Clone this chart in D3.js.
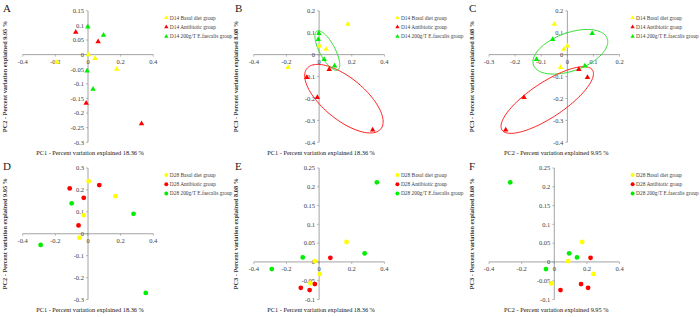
<!DOCTYPE html>
<html>
<head>
<meta charset="utf-8">
<script src="https://cdn.jsdelivr.net/npm/d3@7"></script>
<style>
  body { margin: 0; background: #fff; }
  svg { display: block; font-family: "Liberation Serif", "DejaVu Serif", serif; }
  .tick-label { font-size: 6.5px; fill: #404040; }
  .axis-title { font-size: 6.3px; fill: #111; }
  .axis-title.vertical { font-weight: bold; fill: #333; }
  .legend-text { font-size: 5.4px; fill: #404040; }
  .panel-letter { font-size: 11px; fill: #222; }
</style>
</head>
<body>
<div id="chart"></div>
<script>
// principal coordinates [PC1, PC2, PC3] per sample
var d14Basal = [[-0.19, -0.026, -0.058], [0.003, 0.0, 0.04], [0.043, -0.013, 0.025], [0.176, -0.05, 0.139]];
var d14Antibiotic = [[-0.075, 0.077, -0.104], [0.062, 0.044, -0.068], [-0.011, -0.166, -0.195], [0.328, -0.236, -0.344]];
var d14Faecalis = [[-0.001, 0.095, 0.097], [0.095, 0.067, -0.051], [-0.005, -0.056, 0.069], [0.031, -0.118, -0.022]];

var d28Basal = [[0.004, 0.24, -0.032], [0.168, 0.171, 0.053], [-0.026, 0.085, 0.002], [-0.053, -0.018, -0.057]];
var d28Antibiotic = [[-0.112, 0.207, -0.069], [0.069, 0.222, 0.011], [-0.026, 0.164, -0.059], [-0.058, 0.038, -0.075]];
var d28Faecalis = [[-0.1, 0.139, 0.012], [0.279, 0.091, 0.023], [-0.29, -0.051, -0.019], [0.354, -0.27, 0.212]];

var pcTitles = ["PC1 - Percent variation explained 18.36 %",
                "PC2 - Percent variation explained 9.95 %",
                "PC3 - Percent variation explained 8.08 %"];
var groupNames = ["Basal diet group", "Antibiotic group", "200g/T E.faecalis group"];
var groupColors = ["#ffff00", "#ff0000", "#00ee00"];
var ellipseColors = ["#ffff00", "#ff2020", "#33dd33"];

var ticksX = [-0.4, -0.2, 0, 0.2, 0.4];
var ticksXc = [-0.3, -0.2, -0.1, 0, 0.1, 0.2];
var ticksYa = [0.15, 0.1, 0.05, 0, -0.05, -0.1, -0.15, -0.2, -0.25, -0.3];
var ticksYbc = [0.2, 0.1, 0, -0.1, -0.2, -0.3, -0.4];
var ticksYd = [0.3, 0.2, 0.1, 0, -0.1, -0.2, -0.3];
var ticksYef = [0.25, 0.2, 0.15, 0.1, 0.05, 0, -0.05, -0.1];

// group ellipses drawn by the authors: centre and two semi-axis vectors, in data units
var ellipsesB = [
  {group: 2, c: [0.0504, 0.0187], u: [0.0638, -0.0889], v: [0.0414, 0.0169]},
  {group: 1, c: [0.152, -0.201], u: [0.2265, -0.1377], v: [-0.0801, -0.0743]}
];
var ellipsesC = [
  {group: 2, c: [0.0115, 0.013], u: [0.141, 0.0609], v: [0.025, -0.0816]},
  {group: 1, c: [-0.077, -0.207], u: [0.173, 0.137], v: [0.0373, -0.0664]}
];

var panels = [
  {letter: "A", day: "D14", groups: [d14Basal, d14Antibiotic, d14Faecalis], xi: 0, yi: 1, xTicks: ticksX, yTicks: ticksYa, col: 0, row: 0, shape: "triangle", ellipses: []},
  {letter: "B", day: "D14", groups: [d14Basal, d14Antibiotic, d14Faecalis], xi: 0, yi: 2, xTicks: ticksX, yTicks: ticksYbc, col: 1, row: 0, shape: "triangle", ellipses: ellipsesB},
  {letter: "C", day: "D14", groups: [d14Basal, d14Antibiotic, d14Faecalis], xi: 1, yi: 2, xTicks: ticksXc, yTicks: ticksYbc, col: 2, row: 0, shape: "triangle", ellipses: ellipsesC},
  {letter: "D", day: "D28", groups: [d28Basal, d28Antibiotic, d28Faecalis], xi: 0, yi: 1, xTicks: ticksX, yTicks: ticksYd, col: 0, row: 1, shape: "circle", ellipses: []},
  {letter: "E", day: "D28", groups: [d28Basal, d28Antibiotic, d28Faecalis], xi: 0, yi: 2, xTicks: ticksX, yTicks: ticksYef, col: 1, row: 1, shape: "circle", ellipses: []},
  {letter: "F", day: "D28", groups: [d28Basal, d28Antibiotic, d28Faecalis], xi: 1, yi: 2, xTicks: ticksX, yTicks: ticksYef, col: 2, row: 1, shape: "circle", ellipses: []}
];

var width = 700, height = 317;
var plotLefts = [22.7, 253.8, 489];
var plotTops = [10.8, 168];
var letterX = [3, 235, 469];
var plotW = 130.6, plotH = 131.5;

var svg = d3.select("#chart").append("svg")
    .attr("width", width)
    .attr("height", height);

function fmt(v) {
  var s = String(+v.toFixed(2));
  return s === "-0" ? "0" : s;
}

function drawPanel(p) {
  var left = plotLefts[p.col], top = plotTops[p.row];
  var g = svg.append("g");

  var x = d3.scaleLinear()
      .domain(d3.extent(p.xTicks))
      .range([left, left + plotW]);
  var y = d3.scaleLinear()
      .domain(d3.extent(p.yTicks))
      .range([top + plotH, top]);

  // axes crossing at the origin
  g.append("line")
      .attr("x1", x.range()[0]).attr("x2", x.range()[1])
      .attr("y1", y(0)).attr("y2", y(0))
      .style("stroke", "#8c8c8c").style("stroke-width", 0.8);
  g.append("line")
      .attr("x1", x(0)).attr("x2", x(0))
      .attr("y1", y.range()[0]).attr("y2", y.range()[1])
      .style("stroke", "#8c8c8c").style("stroke-width", 0.8);

  g.selectAll(".ytick")
    .data(p.yTicks)
    .join("line")
      .attr("class", "ytick")
      .attr("x1", x(0) - 2).attr("x2", x(0))
      .attr("y1", d => y(d)).attr("y2", d => y(d))
      .style("stroke", "#8c8c8c").style("stroke-width", 0.6);
  g.selectAll(".xtick")
    .data(p.xTicks)
    .join("line")
      .attr("class", "xtick")
      .attr("x1", d => x(d)).attr("x2", d => x(d))
      .attr("y1", y(0)).attr("y2", y(0) + 2)
      .style("stroke", "#8c8c8c").style("stroke-width", 0.6);

  g.selectAll(".ylab")
    .data(p.yTicks)
    .join("text")
      .attr("class", "tick-label ylab")
      .attr("x", x(0) - 4)
      .attr("y", d => y(d))
      .attr("dy", "0.35em")
      .attr("text-anchor", "end")
      .text(fmt);
  g.selectAll(".xlab")
    .data(p.xTicks)
    .join("text")
      .attr("class", "tick-label xlab")
      .attr("x", d => x(d))
      .attr("y", y(0) + 9.5)
      .attr("text-anchor", "middle")
      .text(fmt);

  // titles
  g.append("text")
      .attr("class", "axis-title")
      .attr("x", left + plotW / 2 + 2)
      .attr("y", top + plotH + 12.5)
      .attr("text-anchor", "middle")
      .text(pcTitles[p.xi]);
  g.append("text")
      .attr("class", "axis-title vertical")
      .attr("transform", "translate(" + (left - 15.5) + "," + (top + plotH / 2) + ") rotate(-90)")
      .attr("text-anchor", "middle")
      .text(pcTitles[p.yi]);
  svg.append("text")
      .attr("class", "panel-letter")
      .attr("x", letterX[p.col])
      .attr("y", top + 1.5)
      .text(p.letter);

  // ellipses
  var line = d3.line().curve(d3.curveLinearClosed);
  p.ellipses.forEach(function(e) {
    var pts = d3.range(0, 2 * Math.PI, Math.PI / 60).map(function(t) {
      var vx = e.c[0] + Math.cos(t) * e.u[0] + Math.sin(t) * e.v[0];
      var vy = e.c[1] + Math.cos(t) * e.u[1] + Math.sin(t) * e.v[1];
      return [x(vx), y(vy)];
    });
    g.append("path")
        .attr("d", line(pts))
        .style("fill", "none")
        .style("stroke", ellipseColors[e.group])
        .style("stroke-width", 1);
  });

  // points
  var tri = d3.symbol().type(d3.symbolTriangle).size(13);
  p.groups.forEach(function(pts, gi) {
    if (p.shape === "triangle") {
      g.selectAll(".pt" + gi)
        .data(pts)
        .join("path")
          .attr("class", "pt" + gi)
          .attr("d", tri)
          .attr("transform", d => "translate(" + x(d[p.xi]) + "," + y(d[p.yi]) + ")")
          .style("fill", groupColors[gi]);
    } else {
      g.selectAll(".pt" + gi)
        .data(pts)
        .join("circle")
          .attr("class", "pt" + gi)
          .attr("cx", d => x(d[p.xi]))
          .attr("cy", d => y(d[p.yi]))
          .attr("r", 2.4)
          .style("fill", groupColors[gi]);
    }
  });

  // legend
  var lx = left + plotW + 13;
  var legend = g.selectAll(".legend")
    .data(groupNames)
    .join("g")
      .attr("class", "legend")
      .attr("transform", (d, i) => "translate(" + lx + "," + (top + 7 + i * 9.3) + ")");
  if (p.shape === "triangle") {
    legend.append("path")
        .attr("d", d3.symbol().type(d3.symbolTriangle).size(8))
        .style("fill", (d, i) => groupColors[i]);
  } else {
    legend.append("circle")
        .attr("r", 2)
        .style("fill", (d, i) => groupColors[i]);
  }
  legend.append("text")
      .attr("class", "legend-text")
      .attr("x", 3.5)
      .attr("dy", "0.35em")
      .text(d => p.day + " " + d);
}

panels.forEach(drawPanel);
</script>
</body>
</html>
